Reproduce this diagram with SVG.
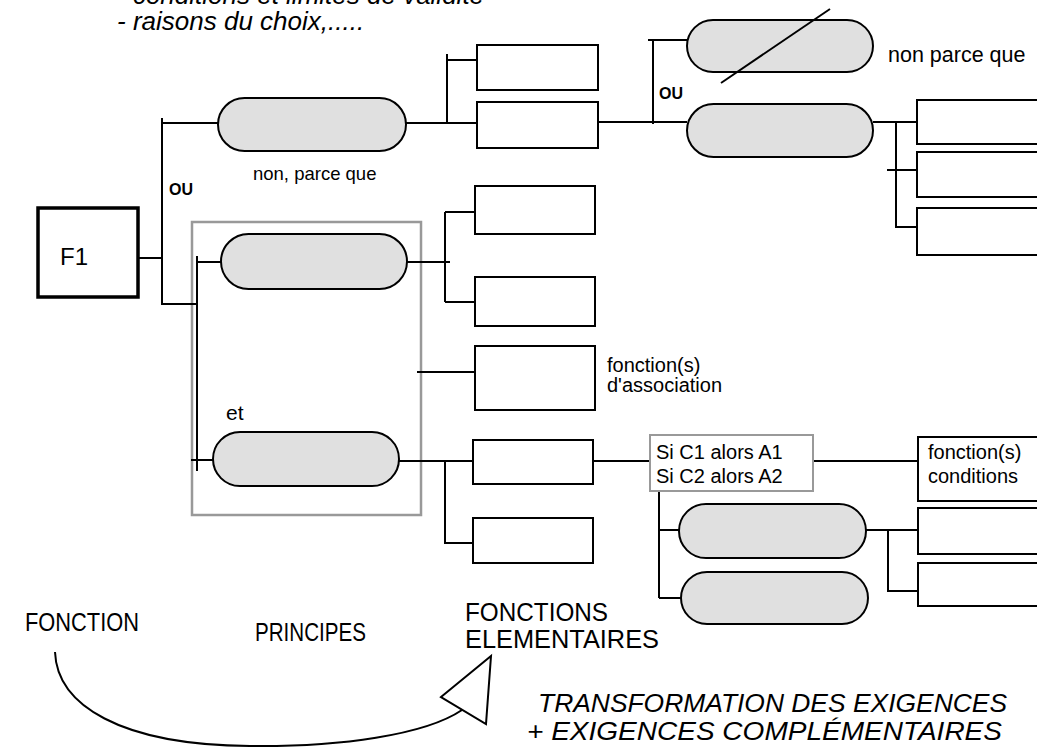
<svg xmlns="http://www.w3.org/2000/svg" width="1037" height="756" viewBox="0 0 1037 756">
<style>
text{font-family:"Liberation Sans",Arial,sans-serif;fill:#000}
.pill{fill:#e0e0e0;stroke:#000;stroke-width:2}
.box{fill:#fff;stroke:#000;stroke-width:2}
.gbox{fill:#fff;stroke:#999;stroke-width:2}
.ln{fill:none;stroke:#000;stroke-width:2}
.it{font-style:italic}
.ou{font-weight:bold;font-size:16px}
.lbl{font-size:20px}
.big{font-size:24px}
.lab{font-size:25px}
</style>
<rect width="1037" height="756" fill="#fff"/>
<g id="notes">
<text class="it" x="117" y="4" font-size="26">- conditions et limites de validité</text>
<text class="it" x="117" y="30" font-size="26">- raisons du choix,.....</text>
</g>
<g id="group-et"><rect x="192" y="222" width="229" height="293" fill="none" stroke="#999" stroke-width="2.5"/></g>
<g id="connectors" class="ln">
<path d="M162,118V304H197M138,258H163M162,123H218"/>
<path d="M406,123H478M447,54V123M447,60H477"/>
<path d="M598,122H687M653,39V124M648,40H687"/>
<path d="M873,122H918M896,122V227H918M887,170H918"/>
<path d="M197,256V471M197,262H221M191,460H213"/>
<path d="M407,262H450M445,212V302M445,212H475M445,302H477M417,372H475"/>
<path d="M399,461H473M445,461V543H475M593,461H650M813,461H918"/>
<path d="M659,491V598M659,530H679M659,598H681M866,530H918M888,530V591H918"/>
<path d="M55,652C57,705 120,745 250,746C340,747 425,735 462,710"/>
<path d="M441,697L491,656L486,724Z" fill="#fff"/>
</g>
<g id="F1"><rect x="38" y="208" width="100" height="89" fill="#fff" stroke="#000" stroke-width="3.5"/><text class="big" x="60" y="265">F1</text></g>
<g id="pill-A"><rect class="pill" x="218" y="98" width="188" height="53" rx="26.5"/></g>
<text x="253" y="180" font-size="18.5">non, parce que</text>
<text class="ou" x="169" y="195">OU</text>
<g id="box-T1"><rect class="box" x="477" y="45" width="121" height="45"/></g>
<g id="box-T2"><rect class="box" x="477" y="102" width="121" height="46"/></g>
<g id="pill-crossed"><rect class="pill" x="687" y="20" width="186" height="52" rx="26"/><line class="ln" x1="721" y1="83" x2="830" y2="9"/></g>
<text x="888" y="62" font-size="21.5">non parce que</text>
<text class="ou" x="659" y="99">OU</text>
<g id="pill-B"><rect class="pill" x="687" y="104" width="186" height="53" rx="26.5"/></g>
<g id="box-R1"><rect class="box" x="917" y="100" width="130" height="44"/></g>
<g id="box-R2"><rect class="box" x="917" y="152" width="130" height="45"/></g>
<g id="box-R3"><rect class="box" x="917" y="208" width="130" height="47"/></g>
<g id="pill-P1"><rect class="pill" x="221" y="234" width="186" height="55" rx="27.5"/></g>
<g id="box-P1a"><rect class="box" x="475" y="186" width="120" height="48"/></g>
<g id="box-P1b"><rect class="box" x="475" y="277" width="120" height="49"/></g>
<g id="box-assoc"><rect class="box" x="475" y="346" width="120" height="64"/><text class="lbl" x="607" y="372">fonction(s)</text><text class="lbl" x="607" y="392">d'association</text></g>
<text x="226" y="420" font-size="21">et</text>
<g id="pill-P2"><rect class="pill" x="213" y="432" width="186" height="54" rx="27"/></g>
<g id="box-E1"><rect class="box" x="473" y="440" width="120" height="44"/></g>
<g id="box-E2"><rect class="box" x="473" y="518" width="120" height="45"/></g>
<g id="box-si"><rect class="gbox" x="650" y="435" width="163" height="56"/><text class="lbl" x="656" y="459">Si C1 alors A1</text><text class="lbl" x="656" y="483">Si C2 alors A2</text></g>
<g id="box-cond"><rect class="box" x="918" y="437" width="130" height="64"/><text class="lbl" x="928" y="459">fonction(s)</text><text class="lbl" x="928" y="483">conditions</text></g>
<g id="pill-S1"><rect class="pill" x="679" y="504" width="187" height="54" rx="27"/></g>
<g id="pill-S2"><rect class="pill" x="681" y="572" width="187" height="52" rx="26"/></g>
<g id="box-S1a"><rect class="box" x="918" y="508" width="130" height="46"/></g>
<g id="box-S1b"><rect class="box" x="918" y="563" width="130" height="43"/></g>
<g id="labels">
<text class="lab" x="25" y="631" textLength="114" lengthAdjust="spacingAndGlyphs">FONCTION</text>
<text class="lab" x="255" y="641" textLength="111" lengthAdjust="spacingAndGlyphs">PRINCIPES</text>
<text class="lab" x="465" y="621" textLength="143" lengthAdjust="spacingAndGlyphs">FONCTIONS</text>
<text class="lab" x="465" y="648" textLength="194" lengthAdjust="spacingAndGlyphs">ELEMENTAIRES</text>
<text class="it" font-size="25" x="538" y="712" textLength="469" lengthAdjust="spacingAndGlyphs">TRANSFORMATION DES EXIGENCES</text>
<text class="it" font-size="25" x="527" y="740" textLength="475" lengthAdjust="spacingAndGlyphs">+ EXIGENCES COMPLÉMENTAIRES</text>
</g>
</svg>
